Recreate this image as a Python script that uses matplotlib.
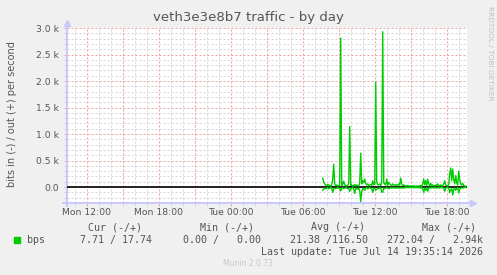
import numpy as np
import matplotlib
matplotlib.use("Agg")
import matplotlib.pyplot as plt
from matplotlib.ticker import MultipleLocator, FuncFormatter

# hours since Mon 00:00, one sample every 5 minutes starting Tue 07:40
start_hour = 31.667

# out (+) traffic in bits per second
bps_out = [
    170, 90, 60, 40, 30, 50, 40, 30, 20, 40, 150, 430,
    60, 30, 40, 30, 20, 40, 2810, 30, 60, 110, 40, 30,
    20, 40, 60, 1140, 30, 40, 20, 30, 50, 20, 40, 30,
    20, 80, 640, 60, 120, 90, 150, 70, 40, 60, 30, 40,
    50, 30, 120, 40, 60, 1980, 90, 50, 40, 60, 30, 80,
    2930, 80, 60, 40, 150, 30, 90, 60, 40, 30, 60, 40,
    30, 50, 40, 30, 60, 40, 170, 60, 30, 40, 30, 20,
    20, 30, 20, 20, 20, 20, 20, 20, 20, 10, 20, 20,
    20, 20, 30, 10, 60, 150, 40, 120, 30, 150, 60, 30,
    70, 20, 40, 30, 20, 40, 30, 60, 20, 30, 40, 20,
    30, 60, 120, 40, 30, 20, 50, 250, 360, 120, 340, 150,
    60, 220, 80, 40, 300, 140, 60, 40, 70, 30, 20, 18,
]

# in (-) traffic in bits per second
bps_in = [
    60, 40, 20, 30, 20, 10, 30, 20, 10, 20, 100, 30,
    20, 30, 20, 10, 20, 30, 70, 20, 10, 30, 20, 10,
    20, 30, 20, 80, 40, 20, 10, 30, 120, 20, 30, 40,
    20, 60, 272, 90, 30, 20, 60, 20, 10, 30, 20, 10,
    20, 30, 100, 30, 20, 60, 40, 20, 30, 20, 10, 90,
    100, 20, 30, 20, 10, 20, 30, 20, 10, 20, 10, 20,
    10, 20, 10, 20, 10, 20, 10, 20, 10, 20, 10, 10,
    10, 10, 10, 10, 10, 10, 10, 10, 10, 10, 10, 10,
    10, 10, 20, 10, 30, 100, 20, 60, 10, 80, 20, 10,
    20, 10, 10, 20, 10, 10, 20, 10, 10, 20, 10, 10,
    10, 20, 80, 20, 10, 10, 20, 100, 60, 20, 150, 40,
    20, 60, 30, 10, 110, 40, 20, 10, 20, 10, 10, 8,
]

tick_hours = [12, 18, 24, 30, 36, 42]
tick_labels = ["Mon 12:00", "Mon 18:00", "Tue 00:00", "Tue 06:00", "Tue 12:00", "Tue 18:00"]

legend_head = ["Cur (-/+)", "Min (-/+)", "Avg (-/+)", "Max (-/+)"]
legend_vals = ["7.71 / 17.74", "0.00 /   0.00", "21.38 /116.50", "272.04 /   2.94k"]

W, H = 497, 275
GREEN = "#00CC00"
TXT = "#555555"
MINOR = "#D4D4D4"
MAJOR = "#F0A4A4"

fig = plt.figure(figsize=(W / 100, H / 100), dpi=100, facecolor="#F0F0F0")
ax = fig.add_axes([67 / W, 1 - 203 / H, 400 / W, 175 / H])
ax.set_facecolor("white")

t = start_hour + np.arange(len(bps_out)) / 12.0
ax.set_xlim(10.36, 43.69)
ax.set_ylim(-300, 3000)

# grid: grey dashed minor, red dashed major
ax.xaxis.set_major_locator(MultipleLocator(6))
ax.xaxis.set_minor_locator(MultipleLocator(1))
ax.yaxis.set_major_locator(MultipleLocator(500))
ax.yaxis.set_minor_locator(MultipleLocator(100))
ax.grid(which="minor", color=MINOR, lw=0.72, ls=(0, (2, 2)))
ax.grid(which="major", axis="y", color=MAJOR, lw=0.72, ls=(0, (2, 2)))
for h in np.arange(12, 44, 3):
    ax.axvline(h, color=MAJOR, lw=0.72, ls=(0, (2, 2)), zorder=0.6)
ax.set_axisbelow(True)

ax.set_xticks(tick_hours)
ax.set_xticklabels(tick_labels)
ax.yaxis.set_major_formatter(FuncFormatter(lambda v, p: "0.0" if v == 0 else "%.1f k" % (v / 1000)))
ax.tick_params(which="major", length=2, width=0.72, color=MAJOR, labelsize=6.7, labelcolor=TXT)
ax.tick_params(which="minor", length=2, width=0.72, color=MINOR)
ax.tick_params(axis="y", which="major", pad=3.5)
ax.tick_params(axis="x", which="major", pad=1.5)

for s in ax.spines.values():
    s.set_visible(False)

# axis lines with arrows
ax.plot([0, 0], [-0.015, 1.02], transform=ax.transAxes, color="#C8C8FF", lw=1.4, clip_on=False)
ax.plot([0], [1.03], transform=ax.transAxes, marker="^", ms=4, color="#C8C8FF", clip_on=False)
ax.plot([-0.01, 1.01], [0, 0], transform=ax.transAxes, color="#C8C8FF", lw=1.4, clip_on=False)
ax.plot([1.015], [0], transform=ax.transAxes, marker=">", ms=4, color="#C8C8FF", clip_on=False)

ax.axhline(0, color="black", lw=1.2, zorder=2)
ax.plot(t, bps_out, color=GREEN, lw=1, zorder=3)
ax.plot(t, -np.array(bps_in), color=GREEN, lw=1, zorder=3)

def px(x, y):
    return x / W, 1 - y / H

fig.text(*px(248.5, 18), "veth3e3e8b7 traffic - by day", ha="center", va="center",
         fontsize=9.5, color=TXT)
fig.text(*px(12, 114), "bits in (-) / out (+) per second", ha="center", va="center",
         rotation=90, fontsize=7, color=TXT)
fig.text(*px(490, 53), "RRDTOOL / TOBI OETIKER", ha="center", va="center",
         rotation=270, fontsize=5.3, color="#C0C0C0")

mono = "DejaVu Sans Mono"
for x_right, s in zip([142, 254, 365, 476], legend_head):
    fig.text(*px(x_right, 227.5), s, ha="right", va="center", family=mono, fontsize=7.2, color=TXT)
for x_right, s in zip([152, 261, 368, 483], legend_vals):
    fig.text(*px(x_right, 240), s, ha="right", va="center", family=mono, fontsize=7.2, color=TXT)
fig.patches.append(plt.Rectangle(px(14, 243), 6 / W, 6 / H, transform=fig.transFigure,
                                 color=GREEN, figure=fig))
fig.text(*px(27, 240), "bps", ha="left", va="center", family=mono, fontsize=7.2, color=TXT)
fig.text(*px(483, 252), "Last update: Tue Jul 14 19:35:14 2026", ha="right", va="center",
         family=mono, fontsize=7.2, color=TXT)
fig.text(*px(248, 264), "Munin 2.0.73", ha="center", va="center", fontsize=5.5, color="#C8C8C8")

fig.savefig("out.png", dpi=100, facecolor=fig.get_facecolor())
